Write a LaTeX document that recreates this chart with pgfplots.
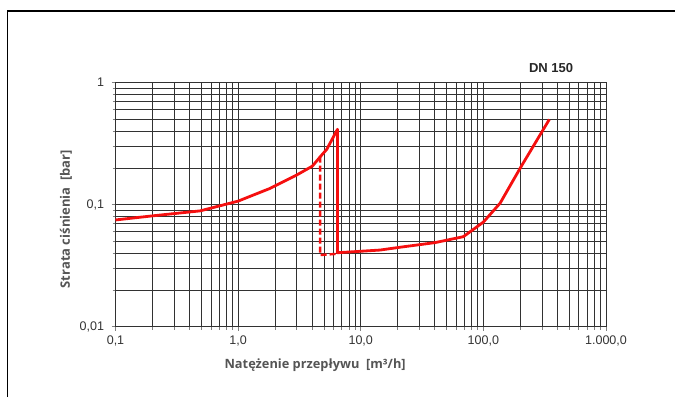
\documentclass[border=0pt]{standalone}
\usepackage{pgfplots}
\pgfplotsset{compat=1.18}
\usepackage{fontspec}
\setmainfont{Liberation Sans}
\newfontfamily\labelfont{Open Sans}
\definecolor{curve}{RGB}{245,15,15}
\definecolor{gridc}{RGB}{50,50,50}
\definecolor{labc}{RGB}{85,85,85}
\begin{document}
\begin{tikzpicture}
\useasboundingbox (0pt,0pt) rectangle (675pt,397pt);
\draw[line width=1.4pt] (7.3pt,0pt) -- (7.3pt,386pt) -- (675pt,386pt);
\begin{axis}[
  at={(115.5pt,70.3pt)}, anchor=south west,
  scale only axis, width=490.5pt, height=244pt,
  xmode=log, ymode=log,
  xmin=0.1, xmax=1000, ymin=0.01, ymax=1,
  xtick={0.1,1,10,100,1000},
  xticklabels={{0,1},{1,0},{10,0},{100,0},{1.000,0}},
  minor xtick={0.2,0.3,0.4,0.5,0.6,0.7,0.8,0.9,2,3,4,5,6,7,8,9,20,30,40,50,60,70,80,90,200,300,400,500,600,700,800,900},
  ytick={0.01,0.1,1},
  yticklabels={{0,01},{0,1},{1}},
  minor ytick={0.02,0.03,0.04,0.05,0.06,0.07,0.08,0.09,0.2,0.3,0.4,0.5,0.6,0.7,0.8,0.9},
  grid=both,
  major grid style={gridc, line width=0.65pt},
  minor grid style={gridc, line width=0.65pt},
  axis line style={gridc, line width=0.65pt},
  tick align=outside, xtick pos=bottom, ytick pos=left,
  major tick length=4pt, minor tick length=3pt,
  tick style={gray, line width=0.6pt},
  ticklabel style={font=\fontsize{12.5}{14}\selectfont, text=black!80},
  xticklabel style={yshift=-2pt},
  yticklabel style={xshift=-4pt},
  xlabel={\labelfont\bfseries Natężenie przepływu\ \ [m³/h]},
  xlabel style={at={(axis description cs:0.407,-0.157)}, anchor=center, font=\fontsize{12.8}{14}\selectfont, text=labc},
  ylabel={\labelfont\bfseries Strata ciśnienia\ \ [bar]},
  ylabel style={at={(axis description cs:-0.101,0.441)}, anchor=center, rotate=0, font=\fontsize{13}{14}\selectfont, text=labc},
  clip=false,
]
\addplot[curve, line width=2.8pt, line join=round] coordinates {
 (0.1,0.075) (0.2,0.081) (0.49,0.089) (1.0,0.107) (1.82,0.136) (3.0,0.175)
 (4.03,0.207) (4.8,0.255) (5.28,0.284) (6.46,0.415) (6.46,0.0404)
 (14.4,0.0425) (20.9,0.0448) (40.4,0.0489) (68.7,0.0547) (100,0.072)
 (137,0.103) (200,0.2) (345,0.5)
};
\addplot[curve, line width=2.4pt, dash pattern=on 6pt off 3pt] coordinates {
 (4.66,0.248) (4.66,0.0387) (6.3,0.0395)
};
\node[font=\bfseries\fontsize{13}{14}\selectfont, text=black!85] at (axis description cs:0.888,1.06) {DN 150};
\end{axis}
\end{tikzpicture}
\end{document}
